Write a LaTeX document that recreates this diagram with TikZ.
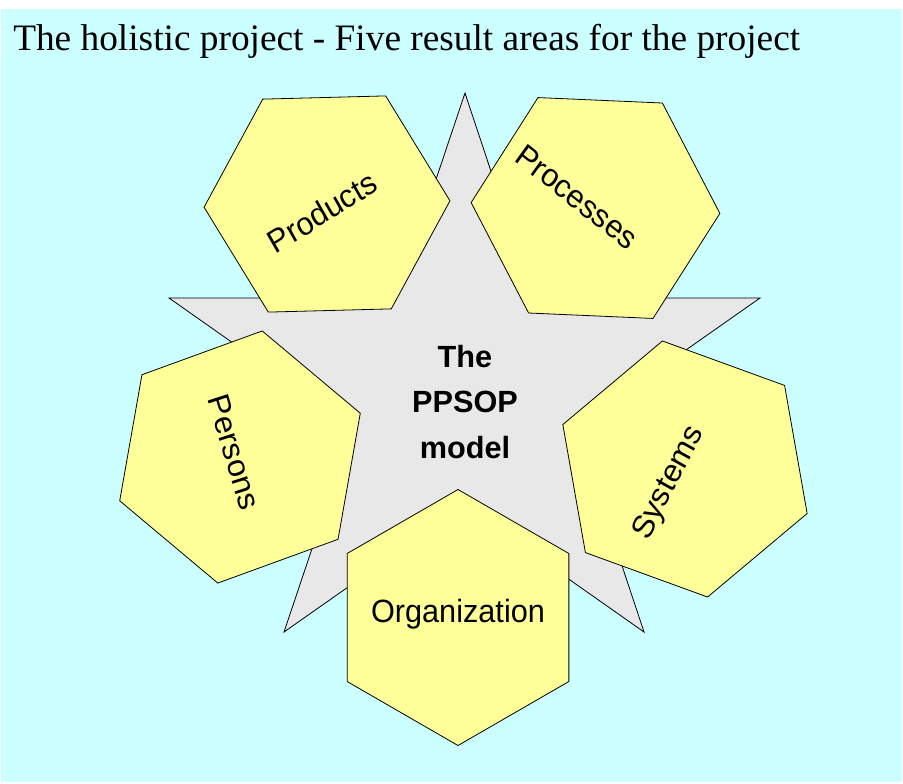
\documentclass[tikz,border=0pt]{standalone}
\usepackage{fontspec}
\setmainfont{Liberation Serif}
\setsansfont{Liberation Sans}
\usetikzlibrary{shapes.geometric}
\definecolor{skyfill}{HTML}{CCFFFF}
\definecolor{hexfill}{HTML}{FFFF99}
\definecolor{starfill}{HTML}{E8E8E8}
\tikzset{
  hexa/.style={regular polygon, regular polygon sides=6, draw, fill=hexfill, line width=0.6pt, inner sep=0pt},
  area/.style={font=\sffamily\fontsize{23}{27}\selectfont, inner sep=0pt, yscale=1.05},
}

\begin{document}
\begin{tikzpicture}[x=0.75pt, y=0.75pt]

\useasboundingbox (0,0) rectangle (903,-783);
\fill[skyfill] (1,-9) rectangle (902,-782);
\node[anchor=base west, inner sep=0pt, font=\fontsize{28}{34}\selectfont] (title) at (13,-50) {The holistic project - Five result areas for the project};

\coordinate (T) at (465,-93);
\coordinate (L) at (169,-298);
\coordinate (R) at (760,-298);
\coordinate (BL) at (284,-632);
\coordinate (BR) at (644,-632);
\draw[fill=starfill, line width=0.6pt] (T) -- (intersection of T--BR and L--R) -- (R)
  -- (intersection of R--BL and T--BR) -- (BR)
  -- (intersection of L--BR and R--BL) -- (BL)
  -- (intersection of T--BL and L--BR) -- (L)
  -- (intersection of T--BL and L--R) -- cycle;

\node[hexa, minimum size=184.5pt, shape border rotate=1.5] (prod) at (327,-204) {};
\node[hexa, minimum size=186.75pt, shape border rotate=-2.5] (proc) at (595.5,-208) {};
\node[hexa, minimum size=192pt, shape border rotate=20] (pers) at (240,-457) {};
\node[hexa, minimum size=195pt, shape border rotate=40] (syst) at (685,-469) {};
\node[hexa, minimum size=192pt, shape border rotate=30] (orga) at (458,-617.5) {};

\node[area, rotate=31] (prodtxt) at (322,-212) {Products};
\node[area, rotate=-37] (proctxt) at (577,-197) {Processes};
\node[area, rotate=-73] (perstxt) at (234,-452) {Persons};
\node[area, rotate=62] (systtxt) at (669,-483) {Systems};
\node[area, anchor=base] (orgatxt) at (458,-622) {Organization};

\node[align=center, font=\sffamily\bfseries\fontsize{23}{34}\selectfont] (model) at (465,-402) {The\\PPSOP\\model};

\end{tikzpicture}
\end{document}
